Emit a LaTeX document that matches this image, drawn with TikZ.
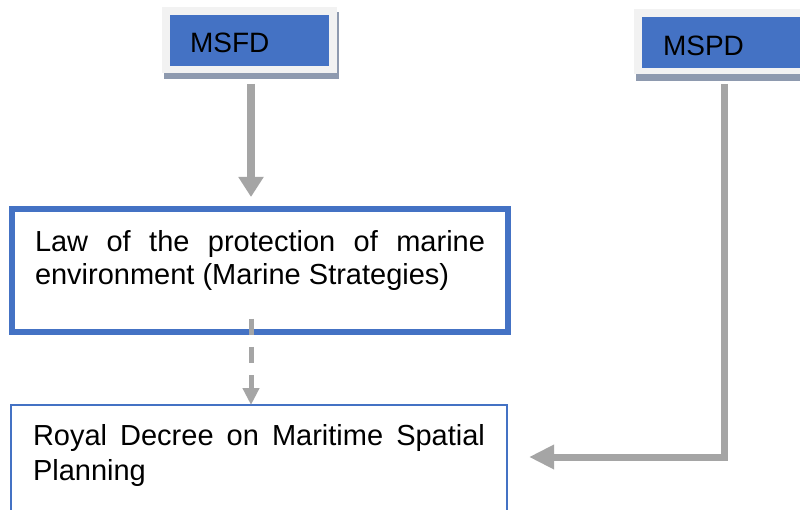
\documentclass[tikz,border=0pt]{standalone}
\usepackage{fontspec}
\setmainfont{Liberation Sans}
\usetikzlibrary{arrows.meta,calc}
\definecolor{boxblue}{HTML}{4472C4}
\definecolor{framegray}{HTML}{F2F2F2}
\definecolor{shadowgray}{HTML}{8E9AAF}
\definecolor{arrowgray}{HTML}{A5A5A5}
\begin{document}
\begin{tikzpicture}[x=1pt,y=-1pt,
  every node/.style={inner sep=0pt,outer sep=0pt},
  frame/.style={rectangle,fill=framegray},
  bluebox/.style={rectangle,fill=boxblue},
  shadowbox/.style={rectangle,fill=shadowgray},
  lawbox/.style={rectangle,draw=boxblue,fill=white},
  label28/.style={font=\fontsize{28}{33}\selectfont,anchor=base west},
  para/.style={font=\fontsize{29}{33}\selectfont,anchor=base west,text width=#1,align=justify},
  flow/.style={draw=arrowgray,line join=miter,line cap=butt}
]
\clip (0,0) rectangle (800,510);
\fill[white] (0,0) rectangle (800,510);

% MSFD
\node[shadowbox,minimum width=175,minimum height=67] (msfds) at (251.5,45.5) {};
\node[frame,minimum width=175,minimum height=66] (msfdf) at (249.5,40) {};
\node[bluebox,minimum width=159,minimum height=51] (msfdb) at (249.5,40.5) {};
\node[label28] (msfd) at (190,53) {MSFD};

% MSPD
\node[shadowbox,minimum width=200,minimum height=72] (mspds) at (736,45) {};
\node[frame,minimum width=200,minimum height=65] (mspdf) at (734,41.5) {};
\node[bluebox,minimum width=200,minimum height=51] (mspdb) at (742,42.5) {};
\node[label28] (mspd) at (663,56) {MSPD};

% Law box
\node[lawbox,line width=6.5pt,minimum width=496,minimum height=123] (law) at (260,270.5) {};
\node[para=450] (lawtext) at (35,252) {Law of the protection of marine\linebreak environment (Marine Strategies)};

% Royal decree box
\node[lawbox,line width=1.5pt,minimum width=496,minimum height=160] (royal) at (259,485) {};
\node[para=452,font=\fontsize{29}{35}\selectfont] (royaltext) at (33,445) {Royal Decree on Maritime Spatial\linebreak Planning};

% connectors
\draw[flow,line width=8pt,-{Triangle[width=24pt,length=20pt]}]
  ([yshift=-11]msfdf.south -| 251,0) -- ([yshift=12]law.north -| 251,0);
\draw[flow,line width=5pt,dash pattern=on 16pt off 12pt,-{Triangle[width=16pt,length=17pt]}]
  ([yshift=13]law.south -| 251,0) -- (royal.north -| 251,0);
\coordinate (mspdout) at ([shift={(90,10)}]mspdf.south west);
\coordinate (royalin) at ([shift={(22,52)}]royal.north east);
\draw[flow,line width=7pt,-{Triangle[width=23pt,length=25pt]}]
  (mspdout) |- (royalin);
\end{tikzpicture}
\end{document}
